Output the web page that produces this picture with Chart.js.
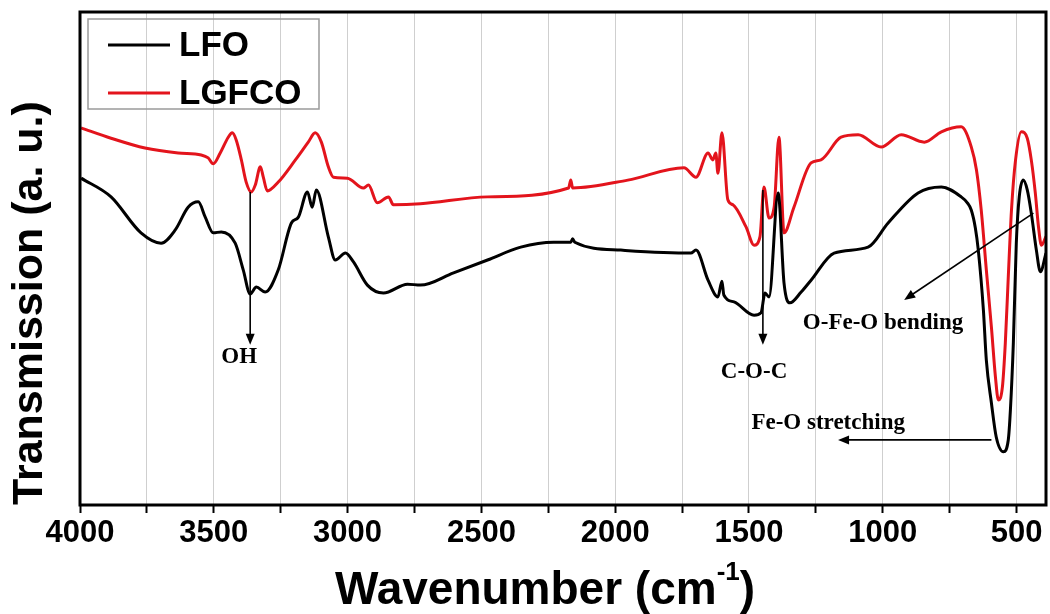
<!DOCTYPE html>
<html>
<head>
<meta charset="utf-8">
<title>FTIR LFO / LGFCO</title>
<script src="https://cdn.jsdelivr.net/npm/chart.js@4.4.1/dist/chart.umd.min.js"></script>
<style>
  html, body { margin: 0; padding: 0; background: #fff; }
  #wrap { width: 1050px; height: 614px; }
</style>
</head>
<body>
<div id="wrap"><canvas id="ftirChart" width="1050" height="614"></canvas></div>
<script>
// values: wavenumber (cm-1) and transmission (a.u.)
const lfoWave = [3996, 3884, 3772, 3697, 3644, 3596, 3558, 3532, 3502, 3472, 3420, 3390, 3364, 3341, 3308, 3259,
  3210, 3184, 3150, 3132, 3117, 3072, 3046, 3008, 2978, 2926, 2866, 2776, 2728, 2604, 2477, 2353, 2230, 2166,
  2159, 2151, 1979, 1717, 1698, 1653, 1616, 1601, 1594, 1556, 1481, 1455, 1440, 1425, 1391, 1369, 1347, 1305,
  1268, 1182, 1055, 980, 868, 781, 707, 684, 669, 654, 643, 624, 613, 594, 576, 549, 531, 523, 512, 501, 490,
  475, 460, 445, 426, 411, 390];
const lfoTrans = [66.3, 62.5, 55.2, 53.1, 55.8, 60.4, 61.5, 58.4, 55.2, 55.4, 53.1, 47.7, 42.8, 44.2, 43.2, 47.7,
  57.2, 58.4, 63.5, 60.4, 63.9, 54.4, 49.7, 51.1, 49.3, 44.6, 43.0, 44.8, 44.6, 47.1, 49.7, 52.3, 53.3, 53.3,
  54.0, 53.3, 51.7, 51.1, 51.7, 45.6, 42.2, 45.4, 42.6, 41.2, 38.5, 39.0, 43.0, 42.2, 63.3, 45.0, 41.0, 43.2,
  45.6, 51.1, 52.3, 57.2, 63.3, 64.5, 62.5, 61.3, 59.8, 56.2, 51.7, 39.6, 29.4, 20.7, 13.8, 10.8, 13.2, 19.3,
  32.9, 53.1, 62.5, 65.9, 63.9, 59.2, 51.7, 47.3, 51.1];

const lgfcoWave = [3996, 3884, 3757, 3633, 3547, 3521, 3502, 3476, 3446, 3431, 3416, 3397, 3379, 3360, 3345, 3326,
  3315, 3300, 3259, 3195, 3147, 3121, 3098, 3072, 3053, 3001, 2941, 2922, 2889, 2847, 2829, 2728, 2477, 2174,
  2166, 2159, 1953, 1743, 1698, 1653, 1635, 1624, 1616, 1601, 1579, 1560, 1511, 1481, 1459, 1444, 1425, 1406,
  1388, 1369, 1332, 1268, 1231, 1156, 1092, 1006, 931, 845, 781, 707, 669, 650, 632, 613, 594, 579, 568, 553,
  542, 531, 519, 504, 482, 460, 445, 430, 418, 407, 390];
const lgfcoTrans = [76.5, 74.4, 72.4, 71.4, 71.0, 70.4, 69.2, 71.4, 74.6, 75.5, 74.0, 70.0, 65.5, 63.5, 64.9, 68.6,
  66.5, 63.7, 65.5, 70.0, 73.6, 75.5, 73.6, 68.6, 66.5, 66.3, 64.3, 64.9, 61.3, 62.5, 60.9, 61.1, 62.5, 64.3,
  65.9, 64.3, 65.9, 68.4, 66.5, 71.4, 70.0, 71.4, 67.3, 75.5, 61.9, 60.9, 56.4, 52.7, 54.4, 64.5, 58.2, 60.4,
  74.6, 55.2, 60.4, 69.4, 70.0, 74.6, 75.1, 72.6, 75.1, 73.6, 75.7, 76.7, 72.6, 68.0, 59.8, 47.7, 36.1, 26.0,
  21.3, 23.9, 32.9, 46.2, 59.8, 69.9, 75.7, 74.4, 70.0, 63.3, 56.4, 52.7, 54.5];

const seriesNames = ["LFO", "LGFCO"];
const tickLabelsX = [4000, 3500, 3000, 2500, 2000, 1500, 1000, 500];

// band assignments marked on the spectrum (data coordinates)
const notes = [
  { kind: "arrow", from: [3364, 63.5], to: [3364, 32.5] },
  { kind: "label", text: "OH", at: [3405, 30.0] },
  { kind: "arrow", from: [1448, 63.9], to: [1448, 32.5] },
  { kind: "label", text: "C-O-C", at: [1481, 27.0] },
  { kind: "arrow", from: [437, 59.2], to: [920, 41.6] },
  { kind: "label", text: "O-Fe-O bending", at: [999, 36.9] },
  { kind: "arrow", from: [594, 13.2], to: [1167, 13.2] },
  { kind: "label", text: "Fe-O stretching", at: [1204, 16.6] }
];

function toPoints(xs, ys) {
  return xs.map((x, i) => ({ x: x, y: ys[i] }));
}

function drawArrow(ctx, x1, y1, x2, y2) {
  const ang = Math.atan2(y2 - y1, x2 - x1);
  const len = 11, half = 4.5;
  ctx.beginPath();
  ctx.moveTo(x1, y1);
  ctx.lineTo(x2 - Math.cos(ang) * len * 0.8, y2 - Math.sin(ang) * len * 0.8);
  ctx.stroke();
  ctx.beginPath();
  ctx.moveTo(x2, y2);
  ctx.lineTo(x2 - Math.cos(ang) * len + Math.sin(ang) * half, y2 - Math.sin(ang) * len - Math.cos(ang) * half);
  ctx.lineTo(x2 - Math.cos(ang) * len - Math.sin(ang) * half, y2 - Math.sin(ang) * len + Math.cos(ang) * half);
  ctx.closePath();
  ctx.fill();
}

// frame, legend box, annotations and x title with superscript
const extras = {
  id: "extras",
  afterDraw(chart) {
    const ctx = chart.ctx;
    const a = chart.chartArea;
    const xs = chart.scales.x, ys = chart.scales.y;
    ctx.save();

    // annotations
    ctx.strokeStyle = "#000";
    ctx.fillStyle = "#000";
    ctx.lineWidth = 1.6;
    ctx.font = "bold 23px 'Liberation Serif', 'Times New Roman', serif";
    ctx.textAlign = "center";
    ctx.textBaseline = "middle";
    notes.forEach(n => {
      if (n.kind === "arrow") {
        drawArrow(ctx, xs.getPixelForValue(n.from[0]), ys.getPixelForValue(n.from[1]),
          xs.getPixelForValue(n.to[0]), ys.getPixelForValue(n.to[1]));
      } else {
        ctx.fillText(n.text, xs.getPixelForValue(n.at[0]), ys.getPixelForValue(n.at[1]));
      }
    });

    // frame
    ctx.lineWidth = 3;
    ctx.strokeStyle = "#000";
    ctx.strokeRect(a.left, a.top, a.right - a.left, a.bottom - a.top);

    // legend
    ctx.lineWidth = 1.5;
    ctx.strokeStyle = "#9a9a9a";
    ctx.strokeRect(a.left + 8, a.top + 7, 231, 90);
    ctx.font = "bold 35px 'Liberation Sans', Arial, sans-serif";
    ctx.textAlign = "left";
    chart.data.datasets.forEach((ds, i) => {
      const yy = a.top + 33 + i * 48;
      ctx.strokeStyle = ds.borderColor;
      ctx.lineWidth = 3;
      ctx.beginPath();
      ctx.moveTo(a.left + 28, yy);
      ctx.lineTo(a.left + 90, yy);
      ctx.stroke();
      ctx.fillStyle = "#000";
      ctx.fillText(ds.label, a.left + 99, yy + 1);
    });

    // x axis title
    ctx.fillStyle = "#000";
    ctx.textBaseline = "alphabetic";
    const main = "Wavenumber (cm";
    const big = "bold 46px 'Liberation Sans', Arial, sans-serif";
    const small = "bold 26px 'Liberation Sans', Arial, sans-serif";
    ctx.font = big;
    const wMain = ctx.measureText(main).width;
    const wClose = ctx.measureText(")").width;
    ctx.font = small;
    const wSup = ctx.measureText("-1").width;
    const total = wMain + wSup + wClose;
    let tx = 545 - total / 2;
    const base = 604;
    ctx.font = big;
    ctx.fillText(main, tx, base);
    tx += wMain;
    ctx.font = small;
    ctx.fillText("-1", tx, base - 24);
    tx += wSup;
    ctx.font = big;
    ctx.fillText(")", tx, base);
    ctx.restore();
  }
};

const chart = new Chart(document.getElementById("ftirChart").getContext("2d"), {
  type: "line",
  data: {
    datasets: [
      { label: seriesNames[0], data: toPoints(lfoWave, lfoTrans), borderColor: "#000000" },
      { label: seriesNames[1], data: toPoints(lgfcoWave, lgfcoTrans), borderColor: "#e3141c" }
    ]
  },
  options: {
    responsive: false,
    animation: false,
    layout: { padding: { top: 12, right: 4, left: 0, bottom: 0 } },
    elements: {
      line: { borderWidth: 3, cubicInterpolationMode: "monotone", fill: false, borderJoinStyle: "round" },
      point: { radius: 0 }
    },
    plugins: { legend: { display: false }, tooltip: { enabled: false } },
    scales: {
      x: {
        type: "linear",
        reverse: true,
        min: 390,
        max: 4000,
        afterFit: s => { s.height = 109; },
        border: { display: false },
        grid: { color: "#cfcfcf", lineWidth: 1, tickColor: "#000", tickWidth: 2, tickLength: 8 },
        ticks: {
          stepSize: 250,
          includeBounds: false,
          autoSkip: false,
          maxRotation: 0,
          minRotation: 0,
          padding: 2,
          color: "#000",
          font: { family: "'Liberation Sans', Arial, sans-serif", size: 31, weight: "bold" },
          callback: v => tickLabelsX.includes(v) ? String(v) : ""
        }
      },
      y: {
        min: 0,
        max: 100,
        afterFit: s => { s.width = 80; },
        border: { display: false },
        grid: { display: false },
        ticks: { display: false },
        title: {
          display: true,
          text: "Transmission (a. u.)",
          align: "start",
          color: "#000",
          padding: { top: 4, bottom: 6 },
          font: { family: "'Liberation Sans', Arial, sans-serif", size: 43, weight: "bold" }
        }
      }
    }
  },
  plugins: [extras]
});
</script>
</body>
</html>
